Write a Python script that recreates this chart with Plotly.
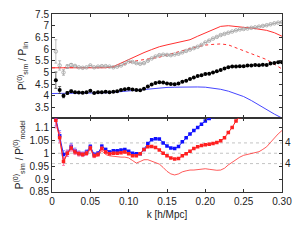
import plotly.graph_objects as go

# ---------------- data ----------------
k_pts = [round(0.005 * i, 3) for i in range(1, 61)]

black_top = [4.67, 4.25, 4.0, 4.12, 4.2, 4.15, 4.14, 4.13, 4.15, 4.22, 4.12, 4.15, 4.15, 4.18, 4.15,
             4.17, 4.2, 4.25, 4.28, 4.3, 4.27, 4.25, 4.24, 4.3, 4.4, 4.48, 4.55, 4.58, 4.57, 4.53,
             4.51, 4.5, 4.53, 4.6, 4.65, 4.72, 4.78, 4.85, 4.88, 4.93, 4.95, 5.0, 5.05, 5.1, 5.17,
             5.22, 5.25, 5.26, 5.27, 5.27, 5.3, 5.3, 5.32, 5.31, 5.33, 5.32, 5.38, 5.4, 5.44, 5.44]
black_err = [0.35, 0.15, 0.08, 0.06, 0.05] + [0.0] * 55

gray_top = [5.9, 5.3, 5.0, 5.25, 5.32, 5.28, 5.22, 5.2, 5.22, 5.3, 5.22, 5.25, 5.27, 5.27, 5.25,
            5.22, 5.25, 5.3, 5.38, 5.47, 5.45, 5.4, 5.37, 5.4, 5.5, 5.6, 5.68, 5.74, 5.76, 5.75,
            5.74, 5.77, 5.8, 5.86, 5.92, 5.98, 6.04, 6.1, 6.18, 6.28, 6.36, 6.45, 6.52, 6.6, 6.65,
            6.7, 6.75, 6.8, 6.84, 6.86, 6.88, 6.91, 6.93, 6.96, 6.99, 7.02, 7.06, 7.1, 7.13, 7.15]
gray_err = [0.5, 0.2, 0.12, 0.08, 0.06] + [0.0] * 55

k_line = [0.0, 0.01, 0.02, 0.03, 0.04, 0.05, 0.06, 0.07, 0.08, 0.09, 0.10, 0.11, 0.12, 0.13, 0.14,
          0.15, 0.16, 0.17, 0.18, 0.19, 0.20, 0.21, 0.22, 0.23, 0.24, 0.25, 0.26, 0.27, 0.28, 0.29, 0.30]
red_solid = [5.2, 5.2, 5.2, 5.2, 5.2, 5.2, 5.2, 5.2, 5.25, 5.4, 5.55, 5.72, 5.85, 5.98, 6.1,
             6.18, 6.25, 6.3, 6.4, 6.55, 6.7, 6.85, 6.97, 7.0, 6.98, 6.93, 6.9, 6.85, 6.8, 6.7, 6.55]
red_dotted = [5.2, 5.2, 5.2, 5.2, 5.2, 5.2, 5.2, 5.2, 5.22, 5.3, 5.42, 5.5, 5.55, 5.6, 5.65,
              5.75, 5.85, 5.95, 6.02, 6.1, 6.17, 6.2, 6.22, 6.18, 6.05, 5.95, 5.8, 5.68, 5.55, 5.35, 5.15]
blue_line = [4.1, 4.1, 4.1, 4.1, 4.1, 4.1, 4.11, 4.13, 4.15, 4.18, 4.22, 4.26, 4.3, 4.33, 4.35,
             4.36, 4.37, 4.38, 4.38, 4.38, 4.37, 4.33, 4.28, 4.2, 4.1, 3.97, 3.8, 3.6, 3.4, 3.22, 3.05]

blue_ratio = [1.136, 1.068, 0.995, 1.0, 1.026, 1.01, 1.0, 0.997, 1.005, 1.026, 0.995, 1.0, 1.027,
              1.015, 1.005, 1.01, 1.01, 1.013, 1.015, 1.008, 1.0, 0.998, 0.998, 1.015, 1.038, 1.052,
              1.056, 1.055, 1.04, 1.028, 1.02, 1.018, 1.026, 1.045, 1.06, 1.075, 1.088, 1.1, 1.112,
              1.125, 1.135, 1.142]
red_ratio = [1.128, 1.06, 0.968, 1.0, 1.02, 1.005, 0.998, 0.995, 1.0, 1.02, 0.99, 0.995, 1.018,
             1.005, 0.998, 1.0, 1.0, 1.002, 1.005, 0.998, 0.99, 0.99, 0.998, 1.015, 1.025, 1.026,
             1.022, 1.013, 1.0, 0.99, 0.982, 0.978, 0.98, 0.99, 0.998, 1.008, 1.018, 1.025, 1.03,
             1.033, 1.035, 1.038, 1.042, 1.048, 1.06, 1.08, 1.1, 1.125, 1.142]
ratio_err = [0.03, 0.02, 0.015, 0.012, 0.012, 0.01, 0.009, 0.008, 0.008, 0.007, 0.007, 0.006,
             0.006, 0.005, 0.005, 0.004]
red_ratio_line = [1.125, 1.055, 0.965, 0.998, 1.015, 1.0, 0.995, 0.99, 0.995, 1.015, 0.985, 0.99,
                  1.01, 0.995, 0.99, 0.988, 0.985, 0.985, 0.985, 0.982, 0.972, 0.962, 0.968, 0.975,
                  0.975, 0.97, 0.965, 0.958, 0.945, 0.93, 0.92, 0.916, 0.92, 0.928, 0.932, 0.935,
                  0.935, 0.937, 0.94, 0.94, 0.938, 0.935, 0.934, 0.935, 0.942, 0.955, 0.965, 0.976,
                  0.985, 0.992, 0.996, 1.0, 1.003, 1.006, 1.015, 1.025, 1.042, 1.06, 1.075, 1.088]
ref_levels = [1.04, 1.0, 0.96]
ref_labels = ["4", "", "4"]

x_ticks = [0, 0.05, 0.10, 0.15, 0.20, 0.25, 0.30]
x_ticktext = ["0", "0.05", "0.10", "0.15", "0.20", "0.25", "0.30"]
top_yticks = [3.5, 4, 4.5, 5, 5.5, 6, 6.5, 7, 7.5]
bot_yticks = [0.85, 0.9, 0.95, 1, 1.05, 1.1]

# ---------------- figure ----------------
fig = go.Figure()

# top panel
fig.add_trace(go.Scatter(x=k_line, y=blue_line, mode="lines", line=dict(color="#4646ff", width=1),
                         xaxis="x", yaxis="y"))
fig.add_trace(go.Scatter(x=k_line, y=red_dotted, mode="lines", line=dict(color="#ff3030", width=1, dash="dot"),
                         xaxis="x", yaxis="y"))
fig.add_trace(go.Scatter(x=k_line, y=red_solid, mode="lines", line=dict(color="#ff3030", width=1),
                         xaxis="x", yaxis="y"))
fig.add_trace(go.Scatter(x=k_pts, y=gray_top, mode="markers",
                         marker=dict(symbol="circle-open", size=3.5, color="#a0a0a0", line=dict(width=0.8)),
                         error_y=dict(type="data", array=gray_err, color="#a0a0a0", thickness=0.7, width=1.5),
                         xaxis="x", yaxis="y"))
fig.add_trace(go.Scatter(x=k_pts, y=black_top, mode="markers",
                         marker=dict(symbol="circle", size=4, color="black"),
                         error_y=dict(type="data", array=black_err, color="#444444", thickness=0.8, width=1.5),
                         xaxis="x", yaxis="y"))

# bottom panel
for lv in ref_levels:
    fig.add_trace(go.Scatter(x=[0, 0.3], y=[lv, lv], mode="lines",
                             line=dict(color="#aaaaaa", width=0.7, dash="dot"),
                             xaxis="x2", yaxis="y2"))
fig.add_trace(go.Scatter(x=k_pts, y=red_ratio_line, mode="lines", line=dict(color="#ff3030", width=0.8),
                         xaxis="x2", yaxis="y2"))
fig.add_trace(go.Scatter(x=k_pts[:len(blue_ratio)], y=blue_ratio, mode="lines+markers",
                         line=dict(color="#2020ff", width=1),
                         marker=dict(symbol="square", size=3.5, color="#1010ff"),
                         error_y=dict(type="data", array=ratio_err + [0] * (len(blue_ratio) - len(ratio_err)),
                                      color="#8080ff", thickness=0.8, width=1.5),
                         xaxis="x2", yaxis="y2"))
fig.add_trace(go.Scatter(x=k_pts[:len(red_ratio)], y=red_ratio, mode="lines+markers",
                         line=dict(color="#ff2020", width=1),
                         marker=dict(symbol="square", size=3.5, color="#ff2020"),
                         error_y=dict(type="data", array=ratio_err + [0] * (len(red_ratio) - len(ratio_err)),
                                      color="#ff60a0", thickness=0.8, width=1.5),
                         xaxis="x2", yaxis="y2"))

for lv, lab in zip(ref_levels, ref_labels):
    if lab:
        fig.add_annotation(x=1.0, xref="paper", y=lv, yref="y2", text=lab, showarrow=False,
                           xanchor="left", xshift=1, font=dict(size=10, color="#222222"))

axis_common = dict(showgrid=False, zeroline=False, showline=True, linecolor="#333333", linewidth=1,
                   mirror="ticks", ticks="inside", ticklen=3, tickcolor="#333333",
                   ticklabeloverflow="allow")

top_lo, top_hi = 3.07, 7.5
split = 0.418
fig.update_layout(
    width=300, height=244,
    margin=dict(l=52, r=10, t=8, b=52),
    paper_bgcolor="white", plot_bgcolor="white",
    showlegend=False,
    font=dict(family="Liberation Sans, Arial, sans-serif", size=10, color="#222222"),
    xaxis=dict(axis_common, domain=[0, 1], range=[0, 0.3], anchor="y", tickvals=x_ticks,
               showticklabels=False),
    yaxis=dict(axis_common, domain=[split, 1], range=[top_lo, top_hi], anchor="x", tickvals=top_yticks,
               ticktext=[f"{v:g}" for v in top_yticks],
               title=dict(text="P<sup>(0)</sup><sub>sim</sub> / P<sub>lin</sub>", standoff=6,
                          font=dict(size=10))),
    xaxis2=dict(axis_common, domain=[0, 1], range=[0, 0.3], anchor="y2", tickvals=x_ticks,
                ticktext=x_ticktext,
                title=dict(text="k [h/Mpc]", standoff=4, font=dict(size=10))),
    yaxis2=dict(axis_common, domain=[0, split], range=[0.85, 1.138], anchor="x2", tickvals=bot_yticks,
                ticktext=[f"{v:g}" for v in bot_yticks],
                title=dict(text="P<sup>(0)</sup><sub>sim</sub> / P<sup>(0)</sup><sub>model</sub>", standoff=4,
                           font=dict(size=10))),
)

fig.write_html("out.html", config={"displayModeBar": False},
               post_script="document.body.style.margin='0';document.body.style.overflow='hidden';")
